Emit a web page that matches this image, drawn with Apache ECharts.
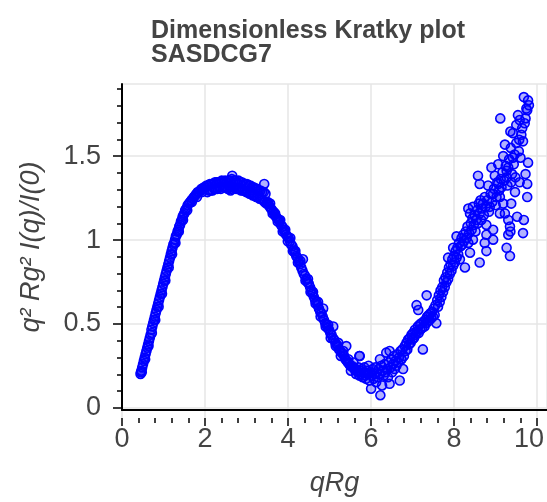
<!DOCTYPE html>
<html><head><meta charset="utf-8">
<script src="https://cdn.jsdelivr.net/npm/echarts@6/dist/echarts.min.js"></script>
<style>html,body{margin:0;padding:0;background:#fff}#c{width:547px;height:502px}</style>
</head><body><div id="c"></div>
<script>
const titleLines = ['Dimensionless Kratky plot', 'SASDCG7'];
const xAxisTitle = 'qRg';
const yAxisTitle = 'q\u00b2 Rg\u00b2 I(q)/I(0)';
const xTickStep = 2, xTickMax = 10;
const yTickStep = 0.5, yTickMax = 1.5, yMinorStep = 0.1, yMinorMax = 1.9;

// rising limb
const riseQ = [0.44,0.45,0.46,0.48,0.50,0.52,0.54,0.56,0.58,0.60,0.62,0.64,0.66,0.68,0.70,0.72,0.74,0.76,0.78,0.80,0.82,0.84,0.86,0.88,0.90,0.92,0.94,0.96,0.98,1.00,
 1.02,1.04,1.06,1.08,1.10,1.12,1.14,1.16,1.18,1.20,1.22,1.24,1.26,1.28,1.30,1.32,1.34,1.36,1.38,1.40,
 1.42,1.44,1.46,1.48,1.50,1.53,1.56,1.59,1.62,1.65,1.68,1.71,1.74,1.77,1.80,1.83,1.86,1.89,1.92,1.95,1.98,
 0.47,0.55,0.63,0.71,0.79,0.87,0.95,1.03,1.11,1.19,1.27,1.35,1.45,1.55,1.66,1.78,1.90];
const riseI = [0.16,0.17,0.18,0.20,0.22,0.24,0.26,0.28,0.30,0.32,0.34,0.36,0.38,0.40,0.43,0.45,0.47,0.49,0.51,0.53,0.55,0.57,0.59,0.61,0.63,0.65,0.67,0.69,0.71,0.73,
 0.75,0.77,0.79,0.81,0.83,0.85,0.87,0.89,0.91,0.93,0.95,0.96,0.98,1.00,1.01,1.03,1.04,1.06,1.07,1.09,
 1.10,1.12,1.13,1.14,1.16,1.17,1.19,1.20,1.21,1.22,1.23,1.24,1.25,1.26,1.27,1.27,1.28,1.29,1.29,1.30,1.30,
 0.17,0.25,0.33,0.41,0.49,0.57,0.65,0.73,0.81,0.89,0.96,1.03,1.10,1.16,1.21,1.24,1.27];

// plateau / peak
const peakQ = [2.01,2.05,2.09,2.13,2.17,2.21,2.25,2.29,2.33,2.37,2.41,2.45,2.49,2.53,2.57,2.61,2.65,2.69,2.73,2.77,2.81,2.85,2.89,2.93,2.97,3.01,3.05,3.09,3.13,3.17,3.21,3.25,3.29,3.33,3.37,3.41,
 2.03,2.07,2.11,2.15,2.19,2.23,2.27,2.31,2.35,2.39,2.43,2.47,2.51,2.55,2.59,2.63,2.67,2.71,2.75,2.79,2.83,2.87,2.91,2.95,2.99,3.03,3.07,3.11,3.15,3.19,3.23,3.27,3.31,3.35,3.39,3.43,
 2.62,3.38,2.58,3.46,2.80];
const peakI = [1.31,1.31,1.32,1.32,1.32,1.33,1.33,1.33,1.33,1.34,1.33,1.34,1.33,1.34,1.34,1.35,1.34,1.34,1.33,1.34,1.33,1.33,1.32,1.32,1.32,1.31,1.31,1.30,1.30,1.29,1.29,1.28,1.28,1.27,1.27,1.26,
 1.27,1.28,1.28,1.28,1.29,1.29,1.29,1.30,1.29,1.30,1.30,1.30,1.29,1.30,1.29,1.30,1.30,1.29,1.29,1.29,1.28,1.28,1.28,1.27,1.27,1.26,1.26,1.25,1.25,1.24,1.24,1.23,1.23,1.22,1.21,1.20,
 1.37,1.32,1.28,1.21,1.29];

// falling limb
const fallQ = [3.45,3.48,3.51,3.54,3.57,3.60,3.63,3.66,3.69,3.72,3.75,3.78,3.81,3.84,3.87,3.90,3.93,3.96,3.99,4.02,4.05,4.08,4.11,4.14,4.17,4.20,4.23,4.26,4.29,4.32,4.35,4.38,4.41,4.44,4.47,4.50,
 4.53,4.56,4.59,4.62,4.65,4.68,4.71,4.74,4.77,4.80,4.83,4.86,4.89,4.92,4.95,4.98,5.01,5.04,5.07,5.10,5.13,5.16,5.19,5.22,5.25,5.28,5.31,5.34,5.37,5.40,5.43,5.46,5.49,5.52,5.55,5.58,
 3.52,3.58,3.64,3.70,3.76,3.82,3.88,3.94,4.00,4.06,4.12,4.18,4.24,4.30,4.36,4.42,4.48,4.54,4.60,4.66,4.72,4.78,4.84,4.90,4.96,5.02,5.08,5.14,5.20,5.26,5.33,5.38,5.44,5.50,5.56,5.65];
const fallI = [1.21,1.20,1.18,1.17,1.16,1.15,1.13,1.12,1.11,1.10,1.09,1.07,1.06,1.04,1.03,1.01,1.00,0.99,0.97,0.95,0.94,0.92,0.90,0.88,0.87,0.85,0.83,0.81,0.79,0.77,0.76,0.74,0.72,0.71,0.69,0.67,
 0.65,0.63,0.61,0.60,0.58,0.56,0.54,0.53,0.51,0.49,0.47,0.46,0.44,0.43,0.41,0.40,0.38,0.37,0.35,0.34,0.33,0.31,0.30,0.29,0.28,0.27,0.25,0.24,0.23,0.22,0.21,0.21,0.20,0.19,0.19,0.18,
 1.20,1.14,1.14,1.09,1.10,1.03,1.04,0.97,0.99,0.91,0.91,0.84,0.85,0.86,0.73,0.74,0.66,0.66,0.59,0.60,0.51,0.56,0.45,0.46,0.38,0.45,0.33,0.35,0.27,0.30,0.33,0.25,0.18,0.23,0.16,0.27];

// minimum
const minQ = [5.60,5.62,5.64,5.66,5.68,5.70,5.72,5.74,5.76,5.78,5.80,5.82,5.84,5.86,5.88,5.90,5.92,5.94,5.96,5.98,6.00,6.02,6.04,6.06,6.08,6.10,6.12,6.14,6.16,6.18,
 6.20,6.22,6.24,6.26,6.28,6.30,6.32,6.34,6.36,6.38,6.40,6.42,6.44,6.46,6.48,6.50,6.52,6.54,6.56,6.58,6.60,6.62,6.64,5.64,6.36,6.13];
const minI = [0.17,0.20,0.15,0.18,0.16,0.19,0.14,0.17,0.20,0.15,0.13,0.18,0.16,0.21,0.12,0.17,0.07,0.15,0.19,0.13,0.16,0.20,0.11,0.17,0.14,0.19,0.16,0.03,0.21,0.09,
 0.18,0.15,0.22,0.17,0.29,0.19,0.14,0.23,0.10,0.20,0.25,0.17,0.22,0.27,0.19,0.24,0.21,0.28,0.23,0.26,0.12,0.30,0.25,0.27,0.30,0.25];

// second rise
const upQ = [6.64,6.66,6.68,6.70,6.72,6.74,6.76,6.78,6.80,6.82,6.84,6.86,6.88,6.90,6.92,6.94,6.96,6.98,7.00,7.01,7.03,7.04,7.05,7.07,7.09,7.11,7.13,7.15,7.17,7.19,
 7.21,7.23,7.24,7.25,7.27,7.29,7.31,7.33,7.35,7.37,7.39,7.41,7.43,7.45,7.47,7.49,7.51,7.53,7.55,7.57,7.59,7.61,7.63,7.65,7.67,7.69,7.71,7.73,7.75,7.75,
 7.77,7.79,7.81,7.83,7.85,7.87,7.87,7.89,7.91,7.93,7.95,7.95,7.97,7.99,8.01,8.03,8.05,8.07,8.09,8.11,8.13,8.15,8.17,8.19];
const upI = [0.25,0.31,0.19,0.27,0.33,0.30,0.35,0.31,0.37,0.34,0.38,0.35,0.40,0.37,0.41,0.38,0.43,0.40,0.58,0.42,0.45,0.55,0.41,0.46,0.43,0.47,0.44,0.31,0.48,0.45,
 0.49,0.47,0.64,0.51,0.48,0.52,0.49,0.53,0.50,0.54,0.51,0.56,0.52,0.58,0.47,0.61,0.57,0.64,0.60,0.67,0.63,0.69,0.66,0.73,0.69,0.75,0.72,0.78,0.74,0.87,
 0.81,0.77,0.83,0.79,0.86,0.82,0.93,0.88,0.84,0.91,0.87,1.00,0.93,0.89,0.96,0.86,0.94,0.99,0.95,1.01,0.97,0.81,1.03,0.99];

// noisy tail
const tailQ = [8.21,8.23,8.23,8.25,8.27,8.27,8.29,8.31,8.33,8.34,8.34,8.36,8.38,8.40,8.42,8.44,8.46,8.46,8.48,8.50,8.50,8.50,8.52,8.54,8.56,8.58,8.60,8.62,8.62,8.64,
 8.66,8.66,8.66,8.68,8.70,8.72,8.74,8.76,8.78,8.80,8.82,8.82,8.82,8.84,8.86,8.88,8.90,8.92,8.94,8.94,8.96,8.98,8.98,8.99,9.00,9.02,9.04,9.06,9.06,9.08,
 9.10,9.10,9.12,9.14,9.14,9.14,9.16,9.18,9.18,9.18,9.20,9.22,9.22,9.23,9.23,9.24,9.25,9.25,9.27,9.29,9.29,9.31,9.33,9.34,9.35,9.37,9.37,9.39,9.41,9.43,
 9.44,9.45,9.45,9.47,9.49,9.51,9.53,9.53,9.55,9.55,9.57,9.59,9.59,9.61,9.63,9.63,9.63,9.65,9.65,9.67];
const tailI = [1.06,0.96,1.17,1.02,1.14,0.90,1.08,1.04,1.11,0.98,1.18,1.07,1.13,1.03,1.10,1.16,1.37,1.08,1.20,0.84,1.14,1.32,1.22,1.10,1.17,1.20,1.13,0.96,1.24,1.18,
 1.07,0.91,1.01,1.22,1.31,1.15,1.18,1.26,1.42,1.21,1.04,0.98,1.26,1.29,1.37,1.19,1.24,1.33,1.44,1.32,1.28,1.24,1.14,1.72,1.35,1.30,1.39,1.49,1.20,1.34,
 1.56,1.14,1.43,1.40,1.36,0.93,1.31,1.42,1.10,1.01,1.47,1.06,0.88,1.64,1.03,1.54,1.33,1.20,1.38,1.63,1.48,1.44,1.50,1.27,1.36,1.68,1.57,1.12,1.74,1.52,
 1.59,1.71,1.33,1.48,1.62,1.66,1.58,1.02,1.85,1.10,1.69,1.72,1.38,1.78,1.77,1.32,1.24,1.83,1.45,1.80];

const qRg = [].concat(riseQ, peakQ, fallQ, minQ, upQ, tailQ);
const kratky = [].concat(riseI, peakI, fallI, minI, upI, tailI);
const points = qRg.map((q, i) => [q, kratky[i]]);

// layout
const F = '"Liberation Sans", Arial, Helvetica, sans-serif';
const TXT = '#444';
const GRIDC = '#e6e6e6';
const TICKFS = 27, NAMEFS = 27;
const X0 = 122, PW = 425, XMIN = 0, XMAX = 10.1;
const T0 = 84, PH = 334, YMIN = -0.06, YMAX = 1.93;
const py = v => T0 + PH * (YMAX - v) / (YMAX - YMIN);
const pxw = v => PW * (v - XMIN) / (XMAX - XMIN);

const chart = echarts.init(document.getElementById('c'), null, {renderer: 'canvas'});
chart.setOption({
  animation: false,
  backgroundColor: '#fff',
  title: {
    text: titleLines.join('\n'), left: 146, top: 14,
    textStyle: {fontFamily: F, fontSize: 25, fontWeight: 'bold', color: TXT, lineHeight: 24}
  },
  grid: [
    {left: X0, top: T0, width: PW, height: PH, show: true, borderColor: GRIDC, borderWidth: 1.5},
    {left: X0, top: T0, width: pxw(xTickMax), height: PH},
    {left: X0, top: py(yTickMax), width: PW, height: py(0) - py(yTickMax)},
    {left: X0, top: py(yMinorMax), width: PW, height: py(0) - py(yMinorMax)}
  ],
  xAxis: [
    {gridIndex: 0, type: 'value', min: XMIN, max: XMAX, z: 5,
     axisLine: {show: true, onZero: false, lineStyle: {color: '#000', width: 2}},
     axisTick: {show: false}, axisLabel: {show: false}, splitLine: {show: false},
     name: xAxisTitle, nameLocation: 'middle', nameGap: 60,
     nameTextStyle: {fontFamily: F, fontSize: NAMEFS, fontStyle: 'italic', color: TXT}},
    {gridIndex: 1, type: 'value', min: 0, max: xTickMax, interval: xTickStep,
     axisLine: {show: false, onZero: false},
     axisTick: {show: true, length: 8, lineStyle: {color: '#000', width: 1.5}},
     minorTick: {show: true, splitNumber: 5, length: 5, lineStyle: {color: '#000', width: 1.5}},
     axisLabel: {show: true, margin: 8, fontFamily: F, fontSize: TICKFS, color: TXT,
       formatter: v => v === xTickMax ? '{e|' + v + '}' : String(v),
       rich: {e: {fontFamily: F, fontSize: TICKFS, color: TXT, padding: [0, 16, 0, 0]}}},
     splitLine: {show: true, lineStyle: {color: GRIDC, width: 1.5}}},
    {gridIndex: 2, type: 'value', show: false, min: 0, max: 1},
    {gridIndex: 3, type: 'value', show: false, min: 0, max: 1}
  ],
  yAxis: [
    {gridIndex: 0, type: 'value', min: YMIN, max: YMAX, z: 5,
     axisLine: {show: true, onZero: false, lineStyle: {color: '#000', width: 2}},
     axisTick: {show: false}, axisLabel: {show: false}, splitLine: {show: false},
     name: yAxisTitle, nameLocation: 'middle', nameGap: 77, nameRotate: 90,
     nameTextStyle: {fontFamily: F, fontSize: NAMEFS, fontStyle: 'italic', color: TXT}},
    {gridIndex: 1, type: 'value', show: false, min: 0, max: 1},
    {gridIndex: 2, type: 'value', min: 0, max: yTickMax, interval: yTickStep,
     axisLine: {show: false, onZero: false},
     axisTick: {show: true, length: 9, lineStyle: {color: '#000', width: 1.5}},
     axisLabel: {show: true, margin: 21, fontFamily: F, fontSize: TICKFS, color: TXT},
     splitLine: {show: true, lineStyle: {color: GRIDC, width: 1.5}}},
    {gridIndex: 3, type: 'value', min: 0, max: yMinorMax, interval: yMinorStep,
     axisLine: {show: false, onZero: false},
     axisTick: {show: true, length: 5, lineStyle: {color: '#000', width: 1.5}},
     axisLabel: {show: false}, splitLine: {show: false}}
  ],
  series: [{
    type: 'scatter', xAxisIndex: 0, yAxisIndex: 0,
    data: points, symbol: 'circle', symbolSize: 9,
    itemStyle: {color: 'rgba(0,0,255,0.3)', borderColor: '#0000ff', borderWidth: 1.6, opacity: 1},
    emphasis: {disabled: true}
  }]
});
</script></body></html>
